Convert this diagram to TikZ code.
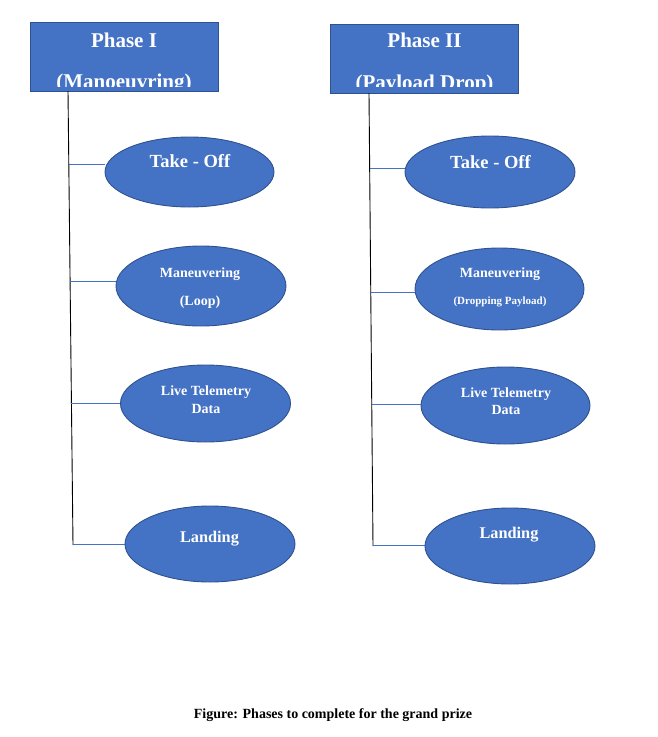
\documentclass[tikz,border=0pt]{standalone}
\usepackage{fontspec}
\setmainfont{Liberation Serif}
\usepackage{xcolor}
\usetikzlibrary{positioning, shapes.geometric}

\definecolor{phaseblue}{HTML}{4472C4}
\definecolor{phaseedge}{HTML}{2F528F}

\tikzset{
  phasebox/.style={draw=phaseedge, fill=phaseblue, line width=0.9pt, minimum width=188pt, minimum height=69pt, inner sep=0pt},
  stepoval/.style={draw=phaseedge, fill=phaseblue, ellipse, line width=0.9pt, inner sep=0pt},
  ovaltext/.style={text=white, font=\bfseries, anchor=base, inner sep=0pt},
  branch/.style={draw=phaseblue, line width=0.8pt},
  spine/.style={draw=black, line width=0.9pt}
}

\begin{document}
\begin{tikzpicture}[x=1pt, y=-1pt]
      \useasboundingbox (0, 0) rectangle (658, 737);

      % phase headers
      \node[phasebox] (b1) at (124, 56.5) {};
      \node[phasebox] (b2) at (424.5, 58.5) {};
      \begin{scope}
        \clip (30, 22) rectangle (218, 86.5);
        \node[ovaltext, font=\fontsize{21}{21}\bfseries\selectfont] (h1a) at (124, 47) {Phase I};
        \node[ovaltext, font=\fontsize{21}{21}\bfseries\selectfont] (h1b) at (124, 88) {(Manoeuvring)};
      \end{scope}
      \begin{scope}
        \clip (331, 24) rectangle (518, 86.5);
        \node[ovaltext, font=\fontsize{21}{21}\bfseries\selectfont] (h2a) at (424.5, 47.5) {Phase II};
        \node[ovaltext, font=\fontsize{21}{21}\bfseries\selectfont] (h2b) at (424.5, 89) {(Payload Drop)};
      \end{scope}

      % spines
      \coordinate (top1) at (68, 91);
      \coordinate (bot1) at (73, 545);
      \coordinate (top2) at (369, 93);
      \coordinate (bot2) at (373, 546);
      \draw[spine] (top1) -- (bot1);
      \draw[spine] (top2) -- (bot2);

      % Phase I steps
      \node[stepoval, minimum width=169pt, minimum height=70pt] (e11) at (189.5, 172) {};
      \node[stepoval, minimum width=170pt, minimum height=80pt] (e12) at (201, 286) {};
      \node[stepoval, minimum width=170pt, minimum height=77pt] (e13) at (205.5, 403.5) {};
      \node[stepoval, minimum width=170pt, minimum height=76pt] (e14) at (210, 544) {};

      \node[ovaltext, font=\fontsize{18.5}{18.5}\bfseries\selectfont] (t11) at (190, 167) {Take - Off};
      \node[ovaltext, font=\fontsize{14}{14}\bfseries\selectfont] (t12a) at (200, 277) {Maneuvering};
      \node[ovaltext, font=\fontsize{14}{14}\bfseries\selectfont] (t12b) at (200, 305) {(Loop)};
      \node[ovaltext, font=\fontsize{14}{14}\bfseries\selectfont] (t13a) at (206, 395) {Live Telemetry};
      \node[ovaltext, font=\fontsize{14}{14}\bfseries\selectfont] (t13b) at (206, 413) {Data};
      \node[ovaltext, font=\fontsize{16.3}{16.3}\bfseries\selectfont] (t14) at (209.5, 542) {Landing};

      \coordinate (j11) at (68.8, 164);
      \coordinate (j12) at (70.1, 281);
      \coordinate (j13) at (71.4, 403);
      \coordinate (j14) at (73, 544);
      \draw[branch] (j11) -- (j11 -| e11.west);
      \draw[branch] (j12) -- (j12 -| e12.west);
      \draw[branch] (j13) -- (j13 -| e13.west);
      \draw[branch] (j14) -- (j14 -| e14.west);

      % Phase II steps
      \node[stepoval, minimum width=170pt, minimum height=72pt] (e21) at (490, 172) {};
      \node[stepoval, minimum width=169pt, minimum height=82pt] (e22) at (499.5, 289) {};
      \node[stepoval, minimum width=169pt, minimum height=77pt] (e23) at (505.5, 405.5) {};
      \node[stepoval, minimum width=170pt, minimum height=76pt] (e24) at (510, 546) {};

      \node[ovaltext, font=\fontsize{18.5}{18.5}\bfseries\selectfont] (t21) at (490.5, 168) {Take - Off};
      \node[ovaltext, font=\fontsize{14}{14}\bfseries\selectfont] (t22a) at (500, 277) {Maneuvering};
      \node[ovaltext, font=\fontsize{11}{11}\bfseries\selectfont] (t22b) at (500, 304) {(Dropping Payload)};
      \node[ovaltext, font=\fontsize{14}{14}\bfseries\selectfont] (t23a) at (506, 397) {Live Telemetry};
      \node[ovaltext, font=\fontsize{14}{14}\bfseries\selectfont] (t23b) at (506, 414) {Data};
      \node[ovaltext, font=\fontsize{16.3}{16.3}\bfseries\selectfont] (t24) at (509, 538) {Landing};

      \coordinate (j21) at (369.7, 168);
      \coordinate (j22) at (370.8, 292);
      \coordinate (j23) at (371.7, 404);
      \coordinate (j24) at (373, 545);
      \draw[branch] (j21) -- (j21 -| e21.west);
      \draw[branch] (j22) -- (j22 -| e22.west);
      \draw[branch] (j23) -- (j23 -| e23.west);
      \draw[branch] (j24) -- (j24 -| e24.west);

      % caption
      \node[anchor=base, inner sep=0pt, font=\fontsize{14}{14}\bfseries\selectfont] (cap) at (333, 718) {Figure: Phases to complete for the grand prize};
    \end{tikzpicture}
\end{document}
